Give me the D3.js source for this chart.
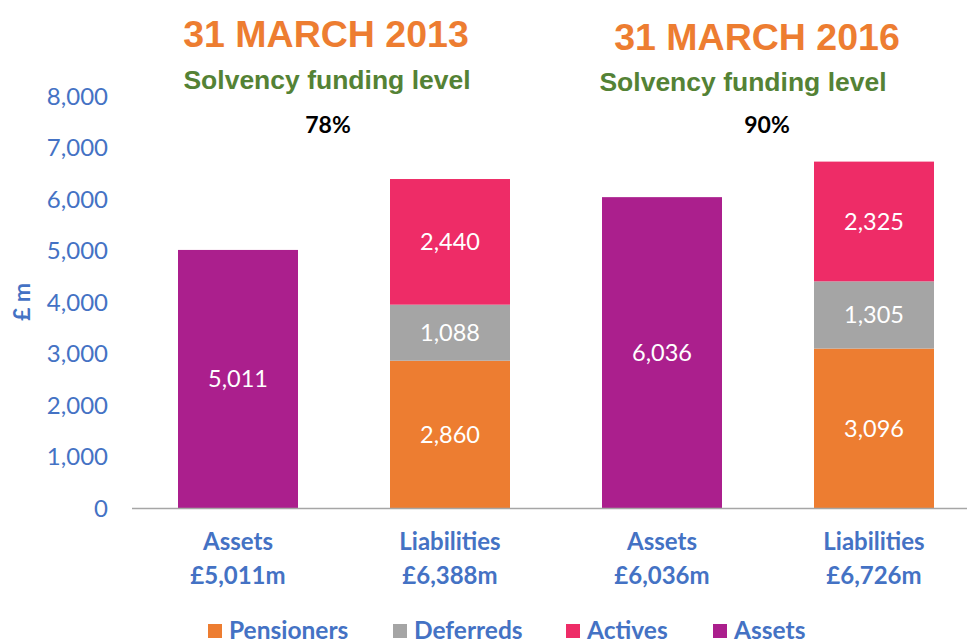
<!DOCTYPE html>
<html>
<head>
<meta charset="utf-8">
<script src="https://cdn.jsdelivr.net/npm/d3@7"></script>
<style>
  body { margin: 0; background: #fff; }
  svg { display: block; }
</style>
</head>
<body>
<svg id="chart" width="967" height="641"></svg>
<script>
const categories = ["Assets|£5,011m", "Liabilities|£6,388m", "Assets|£6,036m", "Liabilities|£6,726m"];
const seriesKeys = ["Pensioners", "Deferreds", "Actives", "Assets"];
const pensioners = [0, 2860, 0, 3096];
const deferreds = [0, 1088, 0, 1305];
const actives = [0, 2440, 0, 2325];
const assets = [5011, 0, 6036, 0];
const yTicks = [0, 1000, 2000, 3000, 4000, 5000, 6000, 7000, 8000];
const titles = ["31 MARCH 2013", "31 MARCH 2016"];
const fundingLevels = ["78%", "90%"];

const colors = {
    Pensioners: "#ED7D31",
    Deferreds: "#A5A5A5",
    Actives: "#EE2C67",
    Assets: "#AB1F8D"
};
const blue = "#4472C4";
const labelFont = "Lato, 'Open Sans', sans-serif";

const svg = d3.select("#chart");

const rows = categories.map((c, i) => ({
    cat: c,
    Pensioners: pensioners[i],
    Deferreds: deferreds[i],
    Actives: actives[i],
    Assets: assets[i]
}));

const x = d3.scaleBand()
    .domain(categories)
    .range([132, 980])
    .paddingInner(0.434)
    .paddingOuter(0.217);

const y = d3.scaleLinear()
    .domain([0, 8000])
    .range([508, 96]);

const stack = d3.stack().keys(seriesKeys);
const stacked = stack(rows);

// y axis tick labels
svg.append("g")
    .selectAll("text")
    .data(yTicks)
    .enter()
    .append("text")
    .attr("x", 108)
    .attr("y", d => y(d))
    .attr("dy", "0.36em")
    .attr("text-anchor", "end")
    .attr("fill", blue)
    .attr("font-family", labelFont)
    .attr("font-size", 24)
    .text(d => d3.format(",")(d));

svg.append("text")
    .attr("transform", "translate(30," + y(4000) + ") rotate(-90)")
    .attr("text-anchor", "middle")
    .attr("fill", blue)
    .attr("font-family", labelFont)
    .attr("font-weight", "bold")
    .attr("font-size", 23)
    .text("£ m");

// bars
const layers = svg.append("g")
    .selectAll("g")
    .data(stacked)
    .enter()
    .append("g")
    .attr("fill", d => colors[d.key]);

layers.selectAll("rect")
    .data(d => d.filter(p => p[1] - p[0] > 0))
    .enter()
    .append("rect")
    .attr("x", d => x(d.data.cat))
    .attr("y", d => y(d[1]))
    .attr("width", x.bandwidth())
    .attr("height", d => y(d[0]) - y(d[1]));

layers.selectAll("text")
    .data(d => d.filter(p => p[1] - p[0] > 0))
    .enter()
    .append("text")
    .attr("x", d => x(d.data.cat) + x.bandwidth() / 2)
    .attr("y", d => y((d[0] + d[1]) / 2))
    .attr("dy", "0.36em")
    .attr("text-anchor", "middle")
    .attr("fill", "#fff")
    .attr("font-family", labelFont)
    .attr("font-size", 23.5)
    .text(d => d3.format(",")(d[1] - d[0]));

// x axis line
svg.append("line")
    .attr("x1", 132)
    .attr("x2", 967)
    .attr("y1", y(0) + 0.5)
    .attr("y2", y(0) + 0.5)
    .attr("stroke", "#A6A6A6")
    .attr("stroke-width", 1.5);

// category labels
const catLabels = svg.append("g")
    .selectAll("text")
    .data(categories)
    .enter()
    .append("text")
    .attr("x", d => x(d) + x.bandwidth() / 2)
    .attr("text-anchor", "middle")
    .attr("fill", blue)
    .attr("font-family", labelFont)
    .attr("font-weight", "bold")
    .attr("font-size", 24);

catLabels.append("tspan")
    .attr("x", d => x(d) + x.bandwidth() / 2)
    .attr("y", 550)
    .text(d => d.split("|")[0]);
catLabels.append("tspan")
    .attr("x", d => x(d) + x.bandwidth() / 2)
    .attr("y", 584)
    .text(d => d.split("|")[1]);

// headings
const titleX = [326, 757];
const subX = [327, 743];
const pctX = [328, 767];

svg.append("g")
    .selectAll("text")
    .data(titles)
    .enter()
    .append("text")
    .attr("x", (d, i) => titleX[i])
    .attr("y", (d, i) => i === 0 ? 47 : 50)
    .attr("text-anchor", "middle")
    .attr("fill", "#ED7D31")
    .attr("font-family", "'Liberation Sans', Arial, sans-serif")
    .attr("font-weight", "bold")
    .attr("font-size", 37.5)
    .text(d => d);

svg.append("g")
    .selectAll("text")
    .data(titles)
    .enter()
    .append("text")
    .attr("x", (d, i) => subX[i])
    .attr("y", (d, i) => i === 0 ? 89 : 91)
    .attr("text-anchor", "middle")
    .attr("fill", "#548235")
    .attr("font-family", "'Liberation Sans', Arial, sans-serif")
    .attr("font-weight", "bold")
    .attr("font-size", 26.5)
    .text("Solvency funding level");

svg.append("g")
    .selectAll("text")
    .data(fundingLevels)
    .enter()
    .append("text")
    .attr("x", (d, i) => pctX[i])
    .attr("y", 133)
    .attr("text-anchor", "middle")
    .attr("fill", "#000")
    .attr("font-family", labelFont)
    .attr("font-weight", "bold")
    .attr("font-size", 23)
    .text(d => d);

// legend
const legendX = [208, 393, 566, 713];
const legend = svg.append("g")
    .selectAll("g")
    .data(seriesKeys)
    .enter()
    .append("g")
    .attr("transform", (d, i) => "translate(" + legendX[i] + ",624)");

legend.append("rect")
    .attr("width", 14)
    .attr("height", 14)
    .attr("fill", d => colors[d]);

legend.append("text")
    .attr("x", 21)
    .attr("y", 15)
    .attr("fill", blue)
    .attr("font-family", labelFont)
    .attr("font-weight", "bold")
    .attr("font-size", 24.5)
    .text(d => d);
</script>
</body>
</html>
